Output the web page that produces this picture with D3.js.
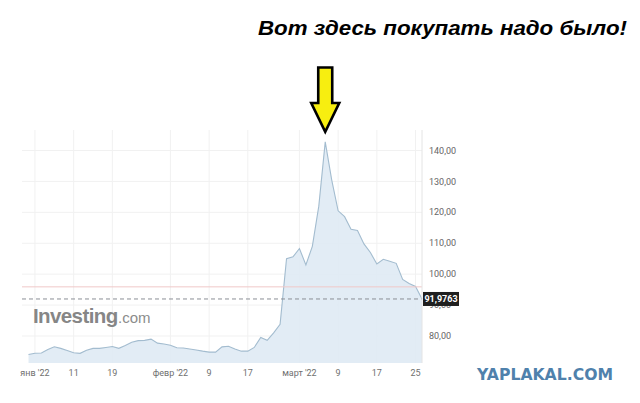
<!DOCTYPE html>
<html><head><meta charset="utf-8">
<script src="https://cdn.jsdelivr.net/npm/d3@7"></script>
<style>body{margin:0;background:#fff}svg{display:block}</style>
</head><body>
<svg id="c" width="640" height="403"></svg>
<script>
const dates = ["2021-12-31",
 "2022-01-03","2022-01-04","2022-01-05","2022-01-06","2022-01-07","2022-01-10","2022-01-11","2022-01-12","2022-01-13","2022-01-14",
 "2022-01-17","2022-01-18","2022-01-19","2022-01-20","2022-01-21","2022-01-24","2022-01-25","2022-01-26","2022-01-27","2022-01-28","2022-01-31",
 "2022-02-01","2022-02-02","2022-02-03","2022-02-04","2022-02-07","2022-02-08","2022-02-09","2022-02-10","2022-02-11",
 "2022-02-14","2022-02-15","2022-02-16","2022-02-17","2022-02-18","2022-02-21","2022-02-22","2022-02-23","2022-02-24","2022-02-25","2022-02-28",
 "2022-03-01","2022-03-02","2022-03-03","2022-03-04","2022-03-07","2022-03-08","2022-03-09","2022-03-10","2022-03-11",
 "2022-03-14","2022-03-15","2022-03-16","2022-03-17","2022-03-18","2022-03-21","2022-03-22","2022-03-23","2022-03-24","2022-03-25","2022-03-28"];
const prices = [74.0,
 74.4,74.5,75.6,76.5,76.0,75.3,74.6,74.4,75.4,76.0,
 76.0,76.3,76.6,76.0,76.9,78.0,78.5,78.6,79.0,77.7,77.4,
 77.0,76.2,76.1,75.8,75.5,75.1,74.8,74.8,76.5,
 76.7,75.8,75.1,75.1,76.3,79.5,78.6,81.0,83.8,105.0,105.6,
 108.3,103.0,109.0,122.0,142.8,130.5,120.5,118.6,114.5,
 114.1,109.8,107.0,103.3,104.8,104.2,103.5,98.3,97.0,96.0,91.9763];
const tickDates = ["2022-01-03","2022-01-11","2022-01-19","2022-02-01","2022-02-09","2022-02-17","2022-03-01","2022-03-09","2022-03-17","2022-03-25"];
const tickLabels = ["янв '22","11","19","февр '22","9","17","март '22","9","17","25"];
const yTicks = [80,90,100,110,120,130,140];
const lastPrice = 91.9763;
const prevClose = 95.9;
const title = "Вот здесь покупать надо было!";
const watermark = "YAPLAKAL.COM";

const svg = d3.select("#c");
const L = 22, R = 422, T = 130, B = 363;
const x = d3.scalePoint().domain(dates).range([28.5, 422]);
const y = d3.scaleLinear().domain([71.27, 146.63]).range([B, T]);
const fmt = v => d3.format(".2f")(v).replace(".", ",");

// grid
svg.append("g").selectAll("line").data(yTicks).join("line")
  .attr("x1", L).attr("x2", R).attr("y1", d => y(d)).attr("y2", d => y(d))
  .attr("stroke", "#f1f1f1").attr("stroke-width", 1);
svg.append("g").selectAll("line").data(tickDates).join("line")
  .attr("x1", d => x(d)).attr("x2", d => x(d)).attr("y1", T).attr("y2", B)
  .attr("stroke", "#f1f1f1").attr("stroke-width", 1);

// watermark Investing.com (single text element)
const wm = svg.append("text").attr("x", 33).attr("y", 323)
  .attr("font-family", "Liberation Sans, Arial, sans-serif");
wm.append("tspan").attr("font-weight", "bold").attr("font-size", 20.5).attr("letter-spacing", -0.6)
  .attr("fill", "#868686").text("Investing");
wm.append("tspan").attr("font-size", 15).attr("fill", "#8c8c8c").attr("dx", 0.5).text(".com");

// area
const pts = dates.map((d, i) => ({d, v: prices[i]}));
svg.append("path").datum(pts)
  .attr("d", d3.area().x(p => x(p.d)).y0(B).y1(p => y(p.v)))
  .attr("fill", "#dfeaf4").attr("fill-opacity", 0.9);
svg.append("path").datum(pts)
  .attr("d", d3.line().x(p => x(p.d)).y(p => y(p.v)))
  .attr("fill", "none").attr("stroke", "#a3bccf").attr("stroke-width", 1.1);

// reference lines
svg.append("line").attr("x1", L).attr("x2", R).attr("y1", y(prevClose)).attr("y2", y(prevClose))
  .attr("stroke", "#f0c8c8").attr("stroke-width", 1);
svg.append("line").attr("x1", L).attr("x2", R).attr("y1", y(lastPrice)).attr("y2", y(lastPrice))
  .attr("stroke", "#8a8f96").attr("stroke-width", 1).attr("stroke-dasharray", "4,3");

// right axis
svg.append("line").attr("x1", R).attr("x2", R).attr("y1", T).attr("y2", B).attr("stroke", "#e4e4e4");
svg.append("g").selectAll("text").data(yTicks).join("text")
  .attr("x", 429).attr("y", d => y(d)).attr("dy", "0.35em")
  .attr("font-family", "Roboto, sans-serif").attr("font-size", 9).attr("fill", "#666")
  .text(d => fmt(d));

// last price label
const ly = y(lastPrice);
svg.append("rect").attr("x", 423).attr("y", ly - 7).attr("width", 36).attr("height", 14).attr("fill", "#1f1f1f");
svg.append("text").attr("x", 441).attr("y", ly).attr("dy", "0.35em").attr("text-anchor", "middle")
  .attr("font-family", "Roboto, sans-serif").attr("font-size", 9).attr("font-weight", "bold").attr("fill", "#fff")
  .text(d3.format(".4f")(lastPrice).replace(".", ","));

// x axis labels
svg.append("g").selectAll("text").data(tickDates).join("text")
  .attr("x", (d) => x(d)).attr("y", 376).attr("text-anchor", "middle")
  .attr("font-family", "Roboto, sans-serif").attr("font-size", 9).attr("fill", "#707070")
  .text((d, i) => tickLabels[i]);

// arrow pointing to peak
const peakI = d3.maxIndex(prices);
const px = x(dates[peakI]);
const tipY = y(prices[peakI]) - 10;
const arrow = [[px-7,67.5],[px+7,67.5],[px+7,103],[px+14,103],[px,tipY],[px-14,103],[px-7,103]];
svg.append("path").attr("d", d3.line()(arrow) + "Z")
  .attr("fill", "#f7ee10").attr("stroke", "#000").attr("stroke-width", 2.6).attr("stroke-linejoin", "miter");

// title
svg.append("text").attr("x", 258).attr("y", 35)
  .attr("font-family", "Liberation Sans, Arial, sans-serif").attr("font-weight", "bold").attr("font-style", "italic")
  .attr("font-size", 19.5).attr("fill", "#000").attr("textLength", 369).attr("lengthAdjust", "spacingAndGlyphs")
  .text(title);

// yaplakal watermark
svg.append("text").attr("x", 477).attr("y", 380)
  .attr("font-family", "DejaVu Sans, sans-serif").attr("font-weight", "bold")
  .attr("font-size", 16).attr("fill", "#4f81ac").attr("textLength", 136).attr("lengthAdjust", "spacingAndGlyphs")
  .text(watermark);
</script>
</body></html>
